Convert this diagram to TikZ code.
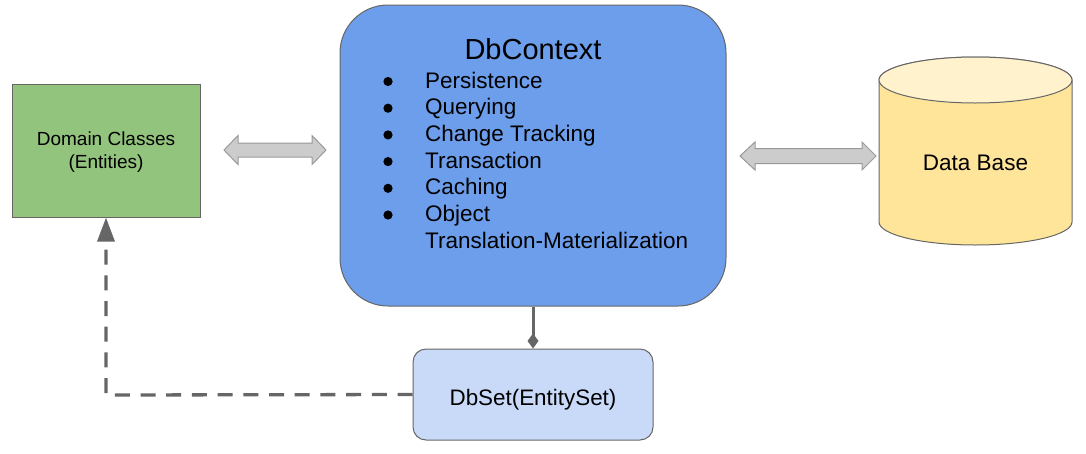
\documentclass[tikz,border=0pt]{standalone}
\usepackage{fontspec}
\setmainfont{Liberation Sans}
\usetikzlibrary{arrows.meta}
\definecolor{domgreen}{HTML}{93C47D}
\definecolor{ctxblue}{HTML}{6D9EEB}
\definecolor{setblue}{HTML}{C9DAF8}
\definecolor{dbyellow}{HTML}{FFE599}
\definecolor{dbtop}{HTML}{FFF2CC}
\definecolor{arrowgray}{HTML}{CCCCCC}
\definecolor{edgegray}{HTML}{666666}
\definecolor{arrowedge}{HTML}{999999}
\tikzset{
  boxedge/.style={draw=edgegray, line width=1pt},
  domainbox/.style={boxedge, fill=domgreen, inner sep=0pt},
  ctxbox/.style={boxedge, fill=ctxblue, rounded corners=48pt, inner sep=0pt},
  setbox/.style={boxedge, fill=setblue, rounded corners=13pt, inner sep=0pt},
  blockarrow/.style={draw=arrowedge, fill=arrowgray, line width=1pt, line join=miter},
  itemtext/.style={anchor=base west, inner sep=0pt, font=\fontsize{22.5}{27}\selectfont},
  bulletdot/.style={fill=black},
  dashline/.style={draw=edgegray, line width=3.3pt, dash pattern=on 15pt off 10.7pt, -{Triangle[length=24pt,width=17pt]}},
  compline/.style={draw=edgegray, line width=3pt, -{Diamond[length=15pt,width=11pt]}}
}
\begin{document}
\begin{tikzpicture}[x=1pt,y=-1pt]
\useasboundingbox (0,0) rectangle (1086,453);

% Domain classes
\node[domainbox, minimum width=188pt, minimum height=133pt] (dom) at (106,150.5) {};
\node[align=center, inner sep=0pt, font=\fontsize{19}{23}\selectfont] (domtext) at (106,152) {Domain Classes\\(Entities)};

% DbContext
\node[ctxbox, minimum width=386pt, minimum height=301pt] (ctx) at (533,155.5) {};
\node[anchor=base, inner sep=0pt, font=\fontsize{29}{34}\selectfont] (ctxtitle) at (533,59) {DbContext};
\foreach \y in {88,114.7,141.4,168.1,194.8,221.5}{
  \fill[bulletdot] (388,\y-6.5) circle[radius=4.6pt];
}
\node[itemtext] (i1) at (425,88) {Persistence};
\node[itemtext] (i2) at (425,114.7) {Querying};
\node[itemtext] (i3) at (425,141.4) {Change Tracking};
\node[itemtext] (i4) at (425,168.1) {Transaction};
\node[itemtext] (i5) at (425,194.8) {Caching};
\node[itemtext] (i6) at (425,221.5) {Object};
\node[itemtext] (i7) at (425,248.2) {Translation-Materialization};

% Database cylinder
\filldraw[fill=dbyellow, draw=edgegray, line width=1pt]
  (879,80) -- (879,222) arc[start angle=180, end angle=0, x radius=96.5, y radius=23]
  -- (1072,80) arc[start angle=0, end angle=-180, x radius=96.5, y radius=23] -- cycle;
\filldraw[fill=dbtop, draw=edgegray, line width=1pt] (975.5,80) ellipse[x radius=96.5, y radius=23];
\node[anchor=base, inner sep=0pt, font=\fontsize{22.5}{27}\selectfont] (db) at (975.5,170) {Data Base};

% DbSet
\node[setbox, minimum width=240pt, minimum height=91pt] (set) at (533,394.5) {};
\node[anchor=base, inner sep=0pt, font=\fontsize{22.4}{27}\selectfont] (settext) at (533,405) {DbSet(EntitySet)};

% Block double arrows
\draw[blockarrow] (224,150) -- (238,135.5) -- (238,143) -- (312,143) -- (312,135.5) -- (326,150)
  -- (312,164.5) -- (312,157) -- (238,157) -- (238,164.5) -- cycle;
\draw[blockarrow] (740,156) -- (755,142) -- (755,148.5) -- (862,148.5) -- (862,142) -- (876,156)
  -- (862,170) -- (862,163.5) -- (755,163.5) -- (755,170) -- cycle;

% Composition connector
\draw[compline] (ctx.south) -- (set.north);

% Dashed dependency
\coordinate (corner) at (106,395);
\draw[dashline] (set.west) -- (corner) -- (corner |- dom.south);
\end{tikzpicture}
\end{document}
